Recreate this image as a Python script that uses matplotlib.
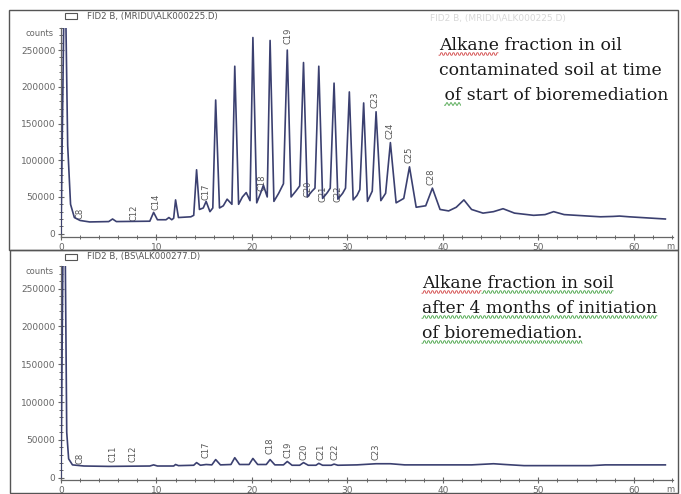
import numpy as np
import matplotlib.pyplot as plt
from matplotlib.patches import Rectangle
from matplotlib.ticker import MultipleLocator, FormatStrFormatter

# top run: oil contaminated soil, start of bioremediation (min, counts)
t_start = [0.0, 0.3, 0.5, 0.7, 1.0, 1.4, 2.0, 3.0, 5.0, 5.4, 5.8, 9.3, 9.7, 10.1,
           11.0, 11.3, 11.6, 11.8, 12.0, 12.3, 13.6, 13.9, 14.2, 14.5, 14.9, 15.2,
           15.6, 15.9, 16.2, 16.6, 17.0, 17.4, 17.9, 18.2, 18.6, 19.0, 19.4, 19.8,
           20.1, 20.5, 20.9, 21.2, 21.6, 21.9, 22.3, 22.8, 23.3, 23.7, 24.1, 24.6,
           25.0, 25.4, 25.8, 26.3, 26.6, 27.0, 27.4, 27.9, 28.2, 28.6, 29.0, 29.5,
           29.8, 30.2, 30.6, 31.0, 31.3, 31.7, 32.1, 32.6, 33.0, 33.5, 34.0, 34.5,
           35.1, 35.9, 36.5, 37.2, 38.2, 38.9, 39.7, 40.6, 41.4, 42.2, 43.0, 44.2,
           45.3, 46.3, 47.5, 49.5, 50.7, 51.6, 52.7, 56.5, 57.8, 58.5, 59.5, 63.3]
y_start = [0, 300000, 300000, 120000, 40000, 22000, 18000, 16000, 16500, 20000, 16500,
           17000, 29000, 19000, 19000, 22000, 19000, 21000, 46000, 22000, 23000, 25000,
           87000, 33000, 35000, 44000, 30000, 35000, 182000, 35000, 38000, 47000, 40000,
           228000, 40000, 50000, 56000, 45000, 267000, 42000, 55000, 66000, 50000,
           263000, 44000, 55000, 68000, 250000, 50000, 58000, 65000, 233000, 50000,
           58000, 62000, 228000, 48000, 56000, 62000, 205000, 47000, 55000, 62000,
           193000, 46000, 52000, 60000, 178000, 44000, 58000, 166000, 45000, 55000,
           124000, 42000, 48000, 91000, 36000, 38000, 62000, 33000, 31000, 36000,
           46000, 33000, 28000, 30000, 34000, 28000, 25000, 26000, 30000, 26000,
           23000, 23500, 24000, 23000, 20000]

# bottom run: soil after 4 months
t_after = [0.0, 0.2, 0.45, 0.6, 0.8, 1.2, 2.0, 2.4, 5.0, 9.3, 9.7, 10.1, 11.8, 12.0,
           12.3, 13.9, 14.2, 14.6, 15.2, 15.8, 16.2, 16.7, 17.8, 18.2, 18.7, 19.7,
           20.1, 20.6, 21.5, 21.9, 22.4, 23.3, 23.7, 24.2, 25.0, 25.4, 25.9, 26.7,
           27.0, 27.4, 28.3, 28.6, 29.0, 31.0, 33.0, 34.5, 36.0, 43.0, 45.3, 46.5,
           48.5, 55.5, 57.0, 63.3]
y_after = [0, 290000, 290000, 60000, 25000, 17000, 16000, 15500, 15000, 15500, 17000,
           15500, 15500, 17500, 16000, 16500, 20000, 16500, 17500, 17000, 24000, 17000,
           17500, 26500, 17500, 17500, 25500, 17500, 17500, 24000, 17000, 17000, 21500,
           16500, 16500, 20000, 16500, 16500, 19000, 16500, 16500, 18000, 16500, 17000,
           18500, 18500, 17000, 17000, 18500, 17500, 16000, 16000, 17000, 17000]

# peak labels (name, min, label height)
lab_start = ['C8', 'C12', 'C14', 'C17', 'C18', 'C19', 'C20', 'C21', 'C22',
             'C23', 'C24', 'C25', 'C28']
lab_start_t = [2.0, 7.6, 9.9, 15.2, 21.1, 23.8, 25.9, 27.4, 29.0, 32.9, 34.5, 36.4, 38.8]
lab_start_y = [27000, 29000, 44000, 57000, 70000, 270000, 61000, 54000, 54000,
               182000, 140000, 107000, 77000]

lab_after = ['C8', 'C11', 'C12', 'C17', 'C18', 'C19', 'C20', 'C21', 'C22', 'C23']
lab_after_t = [2.0, 5.4, 7.5, 15.2, 21.9, 23.8, 25.5, 27.2, 28.7, 33.0]
lab_after_y = [26000, 32000, 32000, 37000, 42000, 37000, 34000, 34000, 34000, 34000]

txt_top = ['Alkane fraction in oil', 'contaminated soil at time', ' of start of bioremediation']
txt_bot = ['Alkane fraction in soil', 'after 4 months of initiation', 'of bioremediation.']

W, H = 681, 494
line_col = '#3b4070'
axis_col = '#666666'

fig = plt.figure(figsize=(W / 100, H / 100), dpi=100)
fig.patch.set_facecolor('white')

# panel frames
fig.add_artist(Rectangle((9 / W, 1 - 250 / H), 669 / W, 240 / H, transform=fig.transFigure,
                         fill=False, ec='#555555', lw=1))
fig.add_artist(Rectangle((10 / W, 1 - 493 / H), 668 / W, 243 / H, transform=fig.transFigure,
                         fill=False, ec='#555555', lw=1))


def chrom_axes(rect, ylo, t, y, names, nt, ny, header, head_y):
    ax = fig.add_axes(rect)
    ax.plot(t, y, color=line_col, lw=1.2, zorder=5)
    ax.set_xlim(0, 64.1)
    ax.set_ylim(ylo, 280000)
    for s in ['top', 'right']:
        ax.spines[s].set_visible(False)
    for s in ['left', 'bottom']:
        ax.spines[s].set_color(axis_col)
        ax.spines[s].set_linewidth(0.9)
    ax.xaxis.set_major_locator(MultipleLocator(10))
    ax.xaxis.set_minor_locator(MultipleLocator(2))
    ax.yaxis.set_major_locator(MultipleLocator(50000))
    ax.yaxis.set_minor_locator(MultipleLocator(10000))
    ax.yaxis.set_major_formatter(FormatStrFormatter('%d'))
    ax.set_xticks([0, 10, 20, 30, 40, 50, 60])
    ax.tick_params(which='major', direction='inout', length=5, width=0.8,
                   colors=axis_col, labelsize=6.5, pad=1.5)
    ax.tick_params(which='minor', direction='inout', length=3, width=0.7, colors=axis_col)
    ax.set_yticks([0, 50000, 100000, 150000, 200000, 250000])
    for n, a, b in zip(names, nt, ny):
        ax.text(a, b, n, rotation=90, ha='center', va='center', fontsize=6, color='#555555')
    ax.text(-0.012, 273000, 'counts', transform=ax.get_yaxis_transform(),
            ha='right', va='center', fontsize=6, color=axis_col)
    ax.text(63.8, -0.045, 'm', transform=ax.get_xaxis_transform(),
            ha='center', va='center', fontsize=6, color=axis_col)
    fig.add_artist(Rectangle((65 / W, 1 - (head_y + 3) / H), 12 / W, 6 / H,
                             transform=fig.transFigure, fill=False, ec='#555555', lw=0.8))
    fig.text(87 / W, 1 - head_y / H, header, ha='left', va='center', fontsize=6.2,
             color='#555555')
    return ax


ax1 = chrom_axes([61 / W, 257 / H, 612 / W, 209 / H], -4500, t_start, y_start,
                 lab_start, lab_start_t, lab_start_y, r'FID2 B, (MRIDU\ALK000225.D)', 16)
ax2 = chrom_axes([61 / W, 14 / H, 612 / W, 214 / H], -3000, t_after, y_after,
                 lab_after, lab_after_t, lab_after_y, r'FID2 B, (BS\ALK000277.D)', 257)

# faint overlapped header in the top right of the upper panel
fig.text(430 / W, 1 - 18 / H, r'FID2 B, (MRIDU\ALK000225.D)', fontsize=6.5,
         color='#d8d8d8', ha='left', va='center')

font = dict(fontsize=12.4, family='DejaVu Serif', color='#1a1a1a', ha='left', va='baseline')
renderer = fig.canvas.get_renderer()


def text_w(s):
    t = fig.text(0, 0, s, **font)
    w = t.get_window_extent(renderer).width
    t.remove()
    return w


def squiggle(x0, x1, y, col):
    # spell-check style wavy underline, pixel coords from the top left
    xs = np.arange(x0, x1, 1.0)
    ys = y + 1.2 * np.where((xs - x0) % 4 < 2, 1, -1)
    fig.add_artist(plt.Line2D(xs / W, 1 - ys / H, color=col, lw=0.6,
                              transform=fig.transFigure))


red, green = '#d04040', '#3f9f3f'
for i, s in enumerate(txt_top):
    fig.text(439 / W, 1 - (50 + 25 * i) / H, s, **font)
squiggle(439, 439 + text_w('Alkane'), 54, red)
squiggle(439 + text_w(' '), 439 + text_w(' of'), 104, green)

for i, s in enumerate(txt_bot):
    fig.text(422 / W, 1 - (288 + 25 * i) / H, s, **font)
    if i == 0:
        squiggle(422, 422 + text_w('Alkane'), 292, red)
        squiggle(422 + text_w('Alkane'), 422 + text_w(s), 292, green)
    else:
        squiggle(422, 422 + text_w(s), 292 + 25 * i, green)

plt.savefig('out.png', dpi=100)
